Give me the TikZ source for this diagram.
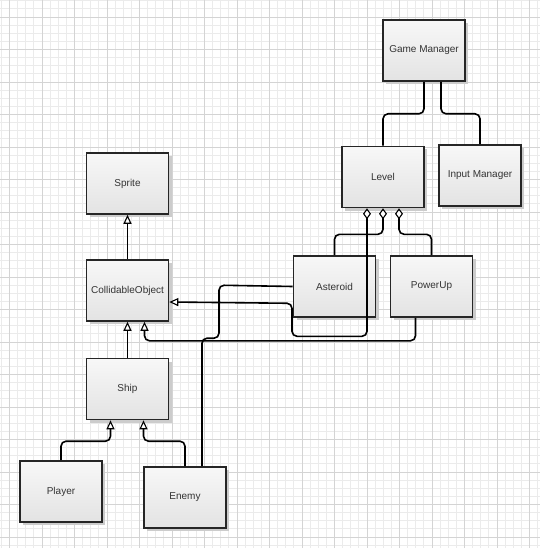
\documentclass[tikz,border=0pt]{standalone}
\usepackage{fontspec}
\setmainfont{Liberation Sans}
\usetikzlibrary{arrows.meta,shadows}

\begin{document}
\begin{tikzpicture}[x=1pt,y=-1pt,
    cls/.style={draw=black!85,line width=1.6pt,top color=gray!6,bottom color=gray!22,
      minimum width=82pt,minimum height=61pt,inner sep=0pt,text=black!80,
      font=\fontsize{10}{12}\selectfont,
      drop shadow={shadow xshift=3pt,shadow yshift=-3pt,fill=gray!40,opacity=1}},
    link/.style={line width=1.6pt,rounded corners=5pt},
    inh/.style={link,-{Triangle[length=9pt,width=8pt,line width=1.1pt,fill=white]}},
    agg/.style={link,{Diamond[length=11pt,width=8pt,line width=1.1pt,fill=white]}-}]
        \fill[white] (0,0) rectangle (540,548);
        \useasboundingbox (0,0) rectangle (540,548);
        % grid
        \foreach \i in {0,...,66} {
            \draw[gray!16] ({1.1+8.125*\i},0) -- ++(0,548);
          }
        \foreach \i in {0,...,67} {
            \draw[gray!16] (0,{0.55+8.125*\i}) -- ++(540,0);
          }
        \foreach \i in {-1,...,15} {
            \draw[gray!34] ({41.7+32.5*\i},0) -- ++(0,548);
          }
        \foreach \i in {0,...,16} {
            \draw[gray!34] (0,{16.8+32.5*\i}) -- ++(540,0);
          }
        % classes
        \node[cls] (gm) at (424,50.5) {Game Manager};
        \node[cls] (lvl) at (383,177) {Level};
        \node[cls] (im) at (480,175.5) {Input Manager};
        \node[cls] (sprite) at (127.5,183.5) {Sprite};
        \node[cls] (co) at (127.5,290.5) {CollidableObject};
        \node[cls] (ast) at (334.5,286.5) {Asteroid};
        \node[cls] (pu) at (431.5,286.5) {PowerUp};
        \node[cls] (ship) at (127.5,389) {Ship};
        \node[cls] (pl) at (61,491.5) {Player};
        \node[cls] (en) at (185,497.5) {Enemy};
        % relations
        \draw[link] (gm.south) -- ++(0,32) -| (lvl.north);
        \draw[link] ([xshift=17pt]gm.south) -- ++(0,32) -| (im.north);
        \draw[inh] (co.north) -- (sprite.south);
        \draw[inh] (ship.north) -- (co.south);
        \draw[inh] ([xshift=-16pt]pu.south) -- ++(0,23) -| ([xshift=17pt]co.south);
        \draw[link,{Diamond[length=11pt,width=8pt,line width=1.1pt,fill=white]}-{Triangle[length=9pt,width=8pt,line width=1.1pt,fill=white]}]
            ([xshift=-16pt]lvl.south) -- ++(0,128) -| ++(-75,-33) -- ([yshift=-11.5pt]co.east);
        \draw[agg] (lvl.south) -- ++(0,26) -| (ast.north);
        \draw[agg] ([xshift=16pt]lvl.south) -- ++(0,26) -| (pu.north);
        \draw[inh] (pl.north) -- ++(0,-19) -| ([xshift=-17pt]ship.south);
        \draw[inh] (en.north) -- ++(0,-25) -| ([xshift=16pt]ship.south);
        \draw[link] ([xshift=17pt]en.north) -- ++(0,-128) -| ++(17,-53) -- (ast.west);
      \end{tikzpicture}
\end{document}
